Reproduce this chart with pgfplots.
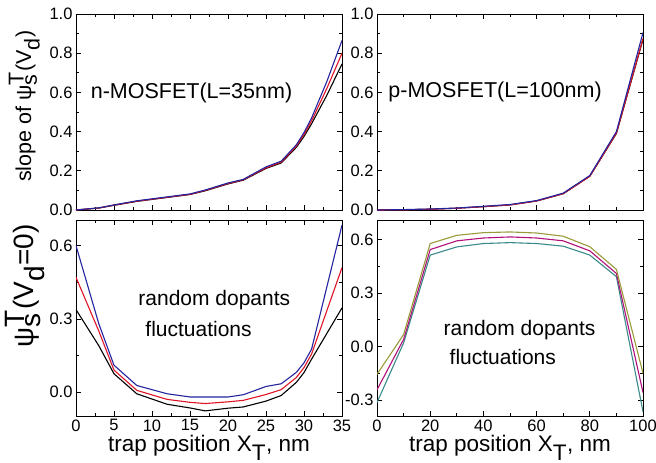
\documentclass[border=0pt]{standalone}
\usepackage{fontspec}
\setmainfont{Liberation Sans}
\usepackage{pgfplots}
\pgfplotsset{compat=1.18}

\definecolor{cblue}{HTML}{2424A0}
\definecolor{cred}{HTML}{E01424}
\definecolor{colive}{HTML}{9A9A3A}
\definecolor{cmag}{HTML}{B0107A}
\definecolor{cteal}{HTML}{3A8A8A}

\tikzset{note/.style={font=\fontsize{21}{31}\selectfont, align=left}}

\pgfplotsset{
  panel/.style={
    scale only axis,
    width=266pt, height=196pt,
    anchor=north west,
    axis line style={black, line width=0.8pt},
    tick style={black, line width=0.7pt},
    major tick length=5pt, minor tick length=3pt,
    tick label style={font=\fontsize{16.5}{18}\selectfont},
    /pgf/number format/assume math mode=true,
    every axis plot/.append style={line width=1.1pt, no marks},
  },
  nx/.style={xmin=0, xmax=35, xtick={0,5,...,35}, minor x tick num=1},
  px/.style={xmin=0, xmax=100, xtick={0,20,...,100}, minor x tick num=1},
  topy/.style={ymin=0, ymax=1, ytick={0,0.2,...,1.0}, minor y tick num=1,
    yticklabel style={/pgf/number format/fixed, /pgf/number format/fixed zerofill,
      /pgf/number format/precision=1}},
  boty/.style={ytick={-0.3,0,0.3,0.6}, minor y tick num=1,
    yticklabel style={/pgf/number format/fixed, /pgf/number format/fixed zerofill,
      /pgf/number format/precision=1}},
  xl/.style={xlabel={trap position X$_{\textrm{T}}$, nm},
    xlabel style={font=\fontsize{22.5}{24}\selectfont, inner sep=0pt,
      at={(axis description cs:0.5,-0.098)}, anchor=north}},
}

\begin{document}
\begin{tikzpicture}[x=1pt,y=1pt]
\useasboundingbox (0,0) rectangle (656,-463);

% top left: n-MOSFET slope
\begin{axis}[panel, nx, topy, at={(76pt,-14pt)}, xticklabels={},
  ylabel={slope of ψ$^{\textrm{T}}_{\textrm{s}}$(V$_{\textrm{d}}$)},
  ylabel style={font=\fontsize{21.5}{23}\selectfont, inner sep=0pt,
    at={(axis description cs:-0.135,0.53)}}]
\addplot[black] coordinates {(0,0) (3,0.01) (5,0.024) (8,0.044) (10,0.054) (12,0.064) (15,0.079) (17,0.098) (20,0.133) (22,0.152) (25,0.212) (27,0.24) (29,0.32) (30,0.375) (31,0.44) (33,0.585) (35,0.745)};
\addplot[cred] coordinates {(0,0) (3,0.01) (5,0.025) (8,0.045) (10,0.055) (12,0.065) (15,0.08) (17,0.1) (20,0.135) (22,0.154) (25,0.215) (27,0.244) (29,0.326) (30,0.385) (31,0.455) (33,0.62) (35,0.80)};
\addplot[cblue] coordinates {(0,0) (3,0.011) (5,0.026) (8,0.047) (10,0.057) (12,0.067) (15,0.082) (17,0.102) (20,0.138) (22,0.156) (25,0.22) (27,0.249) (29,0.333) (30,0.395) (31,0.47) (33,0.655) (35,0.865)};
\node[font=\fontsize{21.5}{23}\selectfont] at (axis cs:15.2,0.595) {n-MOSFET(L=35nm)};
\end{axis}

% top right: p-MOSFET slope
\begin{axis}[panel, px, topy, at={(377pt,-14pt)}, xticklabels={}]
\addplot[black] coordinates {(0,0) (10,0.001) (20,0.004) (30,0.009) (40,0.017) (50,0.026) (60,0.046) (70,0.083) (80,0.172) (90,0.39) (100,0.87)};
\addplot[cred] coordinates {(0,0) (10,0.001) (20,0.004) (30,0.009) (40,0.017) (50,0.026) (60,0.046) (70,0.083) (80,0.172) (90,0.392) (100,0.875)};
\addplot[cblue] coordinates {(0,0) (10,0.002) (20,0.005) (30,0.01) (40,0.019) (50,0.028) (60,0.048) (70,0.086) (80,0.176) (90,0.4) (100,0.905)};
\node[font=\fontsize{21.5}{23}\selectfont] at (axis cs:44.4,0.6) {p-MOSFET(L=100nm)};
\end{axis}

% bottom left: n-MOSFET psi
\begin{axis}[panel, nx, boty, xl, at={(76pt,-220pt)}, ymin=-0.098, ymax=0.705,
  ylabel={ψ$^{\textrm{T}}_{\textrm{s}}$(V$_{\textrm{d}}$=0)},
  ylabel style={font=\fontsize{28}{30}\selectfont, inner sep=0pt,
    at={(axis description cs:-0.115,0.665)}}]
\addplot[black] coordinates {(0,0.338) (3,0.19) (5,0.075) (8,-0.007) (12,-0.05) (15,-0.065) (17,-0.077) (20,-0.066) (22,-0.061) (25,-0.037) (27,-0.014) (29,0.04) (30,0.08) (31,0.135) (35,0.345)};
\addplot[cred] coordinates {(0,0.47) (3,0.25) (5,0.09) (8,0.007) (12,-0.03) (15,-0.042) (17,-0.047) (20,-0.04) (22,-0.034) (25,-0.01) (27,0.01) (29,0.06) (30,0.1) (31,0.156) (35,0.51)};
\addplot[cblue] coordinates {(0,0.6) (3,0.28) (5,0.11) (8,0.027) (12,-0.007) (15,-0.02) (17,-0.02) (20,-0.02) (22,-0.011) (25,0.023) (27,0.034) (29,0.081) (30,0.12) (31,0.176) (35,0.684)};
\node[note] at (axis cs:18.2,0.32) {random dopants\\\hspace*{7pt}fluctuations};
\end{axis}

% bottom right: p-MOSFET psi
\begin{axis}[panel, px, boty, xl, at={(377pt,-220pt)}, ymin=-0.39, ymax=0.71]
\addplot[cteal] coordinates {(0,-0.314) (10,0.02) (20,0.513) (30,0.559) (40,0.578) (50,0.583) (60,0.578) (70,0.563) (80,0.513) (90,0.392) (100,-0.366)};
\addplot[cmag] coordinates {(0,-0.243) (10,0.04) (20,0.544) (30,0.593) (40,0.609) (50,0.615) (60,0.609) (70,0.593) (80,0.537) (90,0.41) (100,-0.258)};
\addplot[colive] coordinates {(0,-0.156) (10,0.067) (20,0.578) (30,0.624) (40,0.639) (50,0.643) (60,0.637) (70,0.619) (80,0.56) (90,0.433) (100,-0.15)};
\node[note, font=\fontsize{21}{29}\selectfont] at (axis cs:53.6,0.022) {random dopants\\\hspace*{6pt}fluctuations};
\end{axis}
\end{tikzpicture}
\end{document}
